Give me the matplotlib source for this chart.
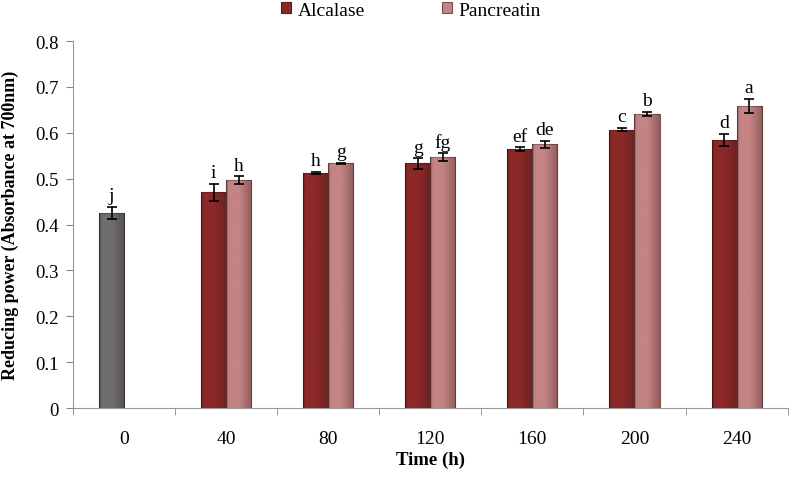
import matplotlib.pyplot as plt
import numpy as np
from matplotlib.colors import LinearSegmentedColormap

# hydrolysis time (h)
times = ['0', '40', '80', '120', '160', '200', '240']

# control (unhydrolysed) at 0 h
control_val = [0.425]
control_err = [0.013]
control_letter = ['j']

# 40 .. 240 h
alcalase = [0.470, 0.512, 0.533, 0.564, 0.607, 0.585]
alcalase_err = [0.019, 0.003, 0.011, 0.004, 0.004, 0.013]
alcalase_letters = ['i', 'h', 'g', 'ef', 'c', 'd']

pancreatin = [0.497, 0.533, 0.547, 0.575, 0.641, 0.658]
pancreatin_err = [0.008, 0.002, 0.008, 0.008, 0.004, 0.016]
pancreatin_letters = ['h', 'g', 'fg', 'de', 'b', 'a']

plt.rcParams['font.family'] = ['Liberation Serif', 'DejaVu Serif']

fig = plt.figure(figsize=(7.9, 4.85), dpi=100)
ax = fig.add_axes([0.0924, 0.1567, 0.9046, 0.7567])

width = 0.245
off = width / 2
x = np.arange(len(times))
x_hyd = x[1:]

red = '#8c2828'
pink = '#c48484'
grey = '#6e6e6e'


def shade(bars, base):
    # cylinder-like horizontal shading on each bar
    cmap = LinearSegmentedColormap.from_list(
        'c', [(0, '#200808'), (0.1, base), (0.5, base), (1, '#301818')])
    grad = np.linspace(0, 1, 64).reshape(1, -1)
    for b in bars:
        bx, by = b.get_x(), b.get_y()
        bw, bh = b.get_width(), b.get_height()
        im = ax.imshow(grad, extent=[bx, bx + bw, by, by + bh], aspect='auto',
                       cmap=cmap, alpha=0.35, zorder=2.5)
        im.set_clip_path(b)


b0 = ax.bar(x[:1] - off, control_val, width, color=grey, edgecolor='#444444',
            linewidth=0.8, zorder=2)
b1 = ax.bar(x_hyd - off, alcalase, width, color=red, edgecolor='#5a1a1a',
            linewidth=0.8, zorder=2, label='Alcalase')
b2 = ax.bar(x_hyd + off, pancreatin, width, color=pink, edgecolor='#7a5050',
            linewidth=0.8, zorder=2, label='Pancreatin')
for bars, base in [(b0, grey), (b1, red), (b2, pink)]:
    shade(bars, base)

ekw = dict(fmt='none', ecolor='black', elinewidth=1.2, capsize=3.5, capthick=1.2, zorder=3)
ax.errorbar(x[:1] - off, control_val, yerr=control_err, **ekw)
ax.errorbar(x_hyd - off, alcalase, yerr=alcalase_err, **ekw)
ax.errorbar(x_hyd + off, pancreatin, yerr=pancreatin_err, **ekw)

for xs, vals, errs, labs in [(x[:1] - off, control_val, control_err, control_letter),
                             (x_hyd - off, alcalase, alcalase_err, alcalase_letters),
                             (x_hyd + off, pancreatin, pancreatin_err, pancreatin_letters)]:
    for xi, v, e, t in zip(xs, vals, errs, labs):
        ax.text(xi, v + e + 0.006, t, ha='center', va='bottom', fontsize=14)

ax.set_xlim(-0.5, len(times) - 0.5)
ax.set_ylim(0, 0.8)
ax.set_yticks(np.arange(0, 0.81, 0.1))
ax.set_yticklabels(['0'] + [f'{v:.1f}' for v in np.arange(0.1, 0.81, 0.1)])
ax.set_xticks(x)
ax.set_xticklabels(times)
ax.set_xticks(np.arange(-0.5, len(times), 1), minor=True)
ax.tick_params(axis='x', which='major', length=0, pad=16, labelsize=14)
ax.tick_params(axis='x', which='minor', length=5, color='#888888')
ax.tick_params(axis='y', length=5, color='#888888', labelsize=13.5, pad=5)

for s in ['top', 'right']:
    ax.spines[s].set_visible(False)
for s in ['left', 'bottom']:
    ax.spines[s].set_color('#999999')

ax.set_ylabel('Reducing power (Absorbance at 700nm)', fontsize=13, fontweight='bold')
ax.yaxis.set_label_coords(-0.076, 0.5)
ax.set_xlabel('Time (h)', fontsize=13.5, fontweight='bold')
ax.xaxis.set_label_coords(0.5, -0.115)

ax.legend(loc='upper center', bbox_to_anchor=(0.473, 1.155), ncol=2, frameon=False,
          fontsize=14, handlelength=0.5, handleheight=0.5, columnspacing=4.0,
          handletextpad=0.35)

fig.savefig('out.png', dpi=100)
